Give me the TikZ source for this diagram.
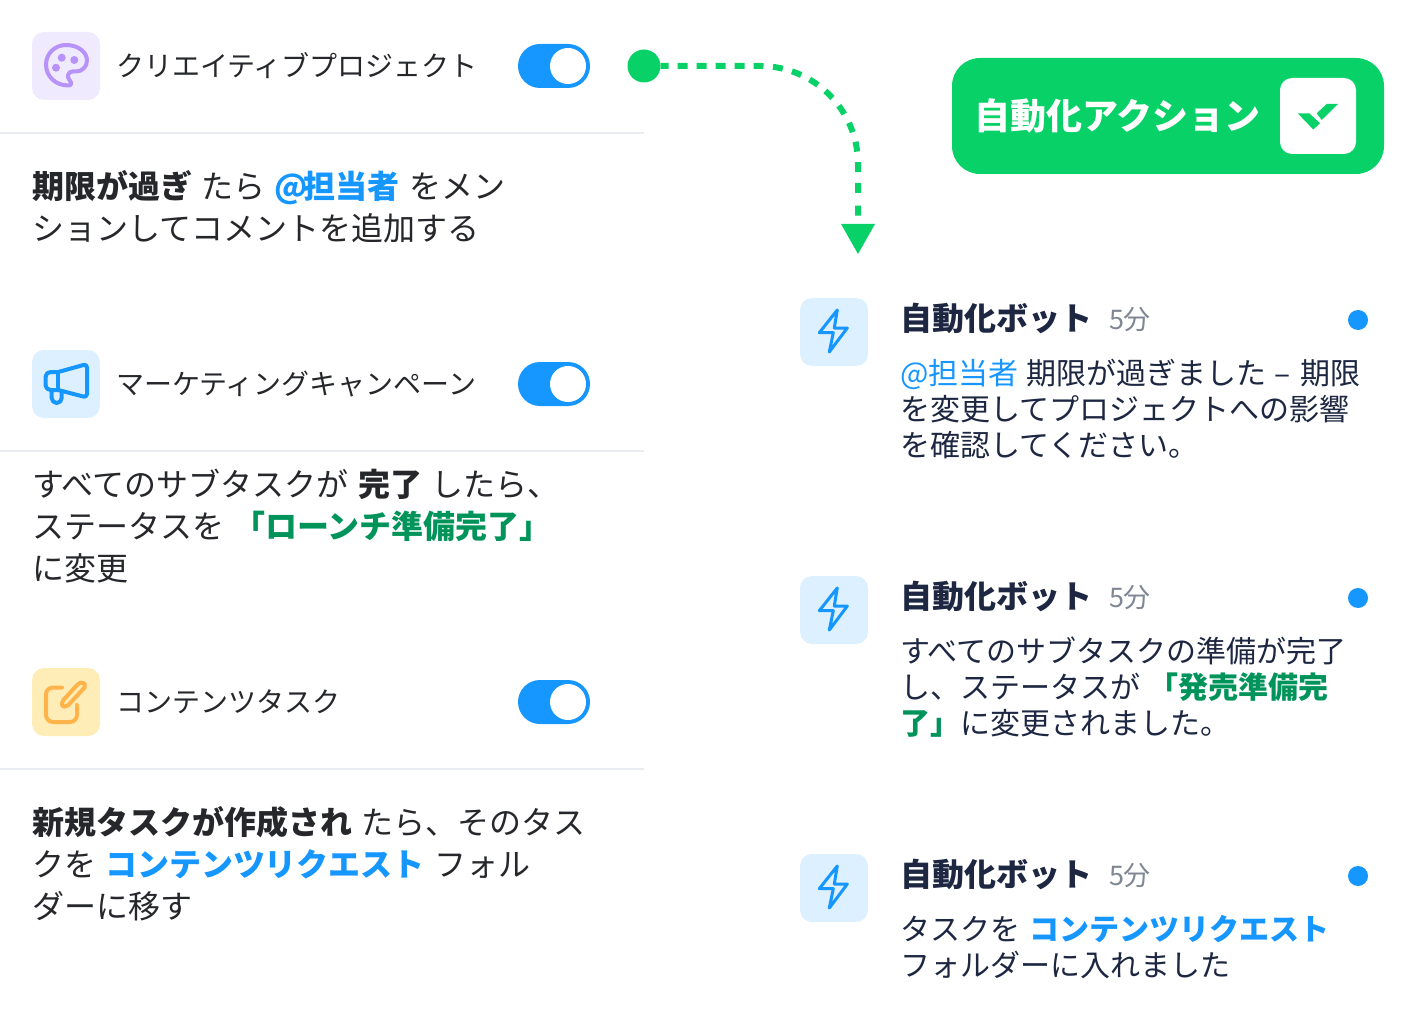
\documentclass[tikz,border=0pt]{standalone}
\usepackage{fontspec}
\setmainfont{Noto Sans CJK JP}
\definecolor{cgreen}{HTML}{08D168}
\definecolor{cblue}{HTML}{1696FF}
\definecolor{tgreen}{HTML}{00945A}
\definecolor{dark}{HTML}{25272B}
\definecolor{navy}{HTML}{1D2742}
\definecolor{cgrey}{HTML}{808694}
\definecolor{rule}{HTML}{E9ECF0}
\definecolor{bgpurple}{HTML}{F0EAFF}
\definecolor{fgpurple}{HTML}{B792F8}
\definecolor{bgblue}{HTML}{DDF0FF}
\definecolor{bgyellow}{HTML}{FFEDB8}
\definecolor{fgyellow}{HTML}{FFB44B}
\newcommand{\gp}{\hspace{10pt}}
\newcommand{\fblue}[1]{\textcolor{cblue}{#1}}
\newcommand{\bblue}[1]{\textcolor{cblue}{\bfseries #1}}
\newcommand{\bgreen}[1]{\textcolor{tgreen}{\bfseries #1}}
\tikzset{
  x=1pt,y=-1pt,
  every node/.style={inner sep=0pt,outer sep=0pt},
  iconbox/.style={rounded corners=12pt},
  icoline/.style={line width=4pt,line cap=round,line join=round},
  label/.style={anchor=base west,text=dark,font=\fontsize{28}{34}\selectfont},
  lefttext/.style={anchor=base west,align=left,text=dark,font=\fontsize{32}{42}\selectfont},
  righttext/.style={anchor=base west,align=left,text=navy,font=\fontsize{30}{36}\selectfont},
  bottitle/.style={anchor=base west,text=navy,font=\fontsize{32}{38}\selectfont\bfseries},
  timetext/.style={anchor=base west,text=cgrey,font=\fontsize{27}{30}\selectfont},
  divider/.style={draw=rule,line width=2pt},
  togglebg/.style={fill=cblue,rounded corners=22pt},
  knob/.style={circle,fill=white,minimum size=36pt},
  unread/.style={circle,fill=cblue,minimum size=20pt},
  bolt/.style={draw=cblue,line width=3pt,line join=round,fill=none},
  flow/.style={draw=cgreen,line width=6pt,dash pattern=on 8pt off 9pt on 10pt off 9pt on 10pt off 9pt on 10pt off 9pt on 10pt off 9pt on 10pt off 9.5pt on 10pt off 9.5pt on 10pt off 9.5pt on 10pt off 9.5pt on 10pt off 10pt on 10pt off 10pt on 10pt off 10pt on 10pt off 10.6pt on 10pt off 10.8pt on 10pt off 12.6pt on 10pt off 40pt},
}
\begin{document}
\begin{tikzpicture}
\useasboundingbox (0,0) rectangle (1408,1024);
% left icon boxes
\fill[bgpurple,iconbox] (32,32) rectangle (100,100);
\fill[bgblue,iconbox] (32,350) rectangle (100,418);
\fill[bgyellow,iconbox] (32,668) rectangle (100,736);
% palette
\draw[fgpurple,icoline] (68.5,85.5) .. controls (55,85.5) and (46,76) .. (46,64.5)
  .. controls (46,53.5) and (55,45) .. (66,45)
  .. controls (78,45) and (87,52) .. (87,60.5)
  .. controls (87,67) and (82,71.5) .. (76,71.5) -- (72.5,71.5)
  .. controls (68,71.5) and (66.5,77) .. (69.5,80)
  .. controls (72,83) and (71.5,85.5) .. (68.5,85.5) -- cycle;
\fill[fgpurple] (61.7,57.7) circle[radius=4] (74.3,60) circle[radius=4] (56,67.7) circle[radius=4];
% megaphone
\draw[cblue,icoline,rounded corners=5pt] (58.3,372) -- (45.5,372) -- (45.5,390) -- (58.3,390);
\draw[cblue,icoline] (58.3,372) -- (58.3,390);
\draw[cblue,icoline,rounded corners=3.5pt] (58.3,372) -- (87,364) -- (87,397.5) -- (58.3,390);
\draw[cblue,icoline] (51.7,390) -- (51.7,398) arc[start angle=180,end angle=0,radius=5] -- (61.7,391);
% note
\draw[fgyellow,icoline,rounded corners=7pt] (62,687.5) -- (46,687.5) -- (46,722) -- (77,722) -- (77,705);
\draw[fgyellow,icoline,rounded corners=2pt] (62,706.5) -- (62,701.5) -- (79,683) -- (83,682) -- (86,686) -- (67,706.5) -- cycle;
% toggles
\fill[togglebg] (518,44) rectangle (590,88);
\node[knob] (knob1) at (568,66) {};
\fill[togglebg] (518,362) rectangle (590,406);
\node[knob] (knob2) at (568,384) {};
\fill[togglebg] (518,680) rectangle (590,724);
\node[knob] (knob3) at (568,702) {};
% dividers
\draw[divider] (0,133) -- (644,133);
\draw[divider] (0,451) -- (644,451);
\draw[divider] (0,769) -- (644,769);
% left labels
\node[label] (lab1) at (116,77) {クリエイティブプロジェクト};
\node[label] (lab2) at (116,394) {マーケティングキャンペーン};
\node[label] (lab3) at (116,712) {コンテンツタスク};
\node[lefttext] (p1) at (32,241) {\textbf{期限が過ぎ}\hspace{9pt}たら\hspace{9pt}\textcolor{cblue}{\bfseries @\hspace{-4pt}担当者}\gp をメン\\ションしてコメントを追加する};
\node[lefttext] (p2) at (32,580) {すべてのサブタスクが\gp\textbf{完了}\hspace{9pt}したら、\\ステータスを\hspace{9pt}\bgreen{「ローンチ準備完了」}\\に変更};
\node[lefttext] (p3) at (32,918) {\textbf{新規タスクが作成され}\hspace{9pt}たら、そのタス\\クを\hspace{9pt}\bblue{コンテンツリクエスト}\hspace{9pt}フォル\\ダーに移す};
% banner
\fill[cgreen,rounded corners=28pt] (952,58) rectangle (1384,174);
\node[anchor=base west,text=white,font=\fontsize{36}{42}\selectfont\bfseries] (bannertext) at (974,129.5) {自動化アクション};
\fill[white,rounded corners=12pt] (1280,78) rectangle (1356,154);
\fill[cgreen] (1297.7,113.3) -- (1309.3,113.3) -- (1320,123.3) -- (1313.3,129.5) -- cycle;
\fill[cgreen] (1316.7,113.3) -- (1326.7,104) -- (1338,104) -- (1321.7,120) -- cycle;
% flow connector
\node[circle,fill=cgreen,minimum size=33pt] (startdot) at (644,66) {};
\coordinate (bendA) at (760,66);
\coordinate (tipTop) at (858,224);
\draw[flow] (startdot.east) -- (bendA) arc[start angle=-90,end angle=0,radius=98] -- (tipTop);
\fill[cgreen] (tipTop) ++(-17,0) -- ++(34,0) -- ++(-17,30) -- cycle;
% right items
\foreach \yy/\nm in {298/a,576/b,854/c}{
  \fill[bgblue,iconbox] (800,\yy) rectangle (868,\yy+68);
  \draw[bolt] (837.3,\yy+12) -- (819.3,\yy+34.7) -- (833.3,\yy+34.7) -- (829.3,\yy+54) -- (847.3,\yy+30) -- (834.3,\yy+30) -- cycle;
  \node[bottitle] (title\nm) at (900,\yy+32.5) {自動化ボット};
  \node[timetext] (time\nm) at (1109,\yy+31) {5分};
  \node[unread] (dot\nm) at (1358,\yy+22) {};
}
\node[righttext] (ra) at (900,456) {\fblue{@担当者}\hspace{8pt}期限が過ぎました\hspace{8pt}–\hspace{10pt}期限\\を変更してプロジェクトへの影響\\を確認してください。};
\node[righttext] (rb) at (900,734) {すべてのサブタスクの準備が完了\\し、ステータスが\hspace{8pt}\bgreen{「発売準備完}\\\bgreen{了」}に変更されました。};
\node[righttext] (rc) at (900,976) {タスクを\hspace{9pt}\bblue{コンテンツリクエスト}\\フォルダーに入れました};
\end{tikzpicture}
\end{document}
